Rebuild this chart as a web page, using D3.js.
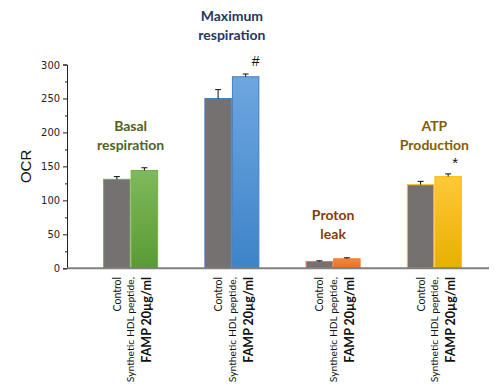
<!DOCTYPE html>
<html><head><meta charset="utf-8">
<script src="https://cdn.jsdelivr.net/npm/d3@7"></script>
<style>body{margin:0;background:#fff}svg{display:block}</style>
</head><body>
<script>
const groups = ["Basal respiration", "Maximum respiration", "Proton leak", "ATP Production"];
const groupLines = [["Basal","respiration"],["Maximum","respiration"],["Proton","leak"],["ATP","Production"]];
const controlValues = [131, 250, 10, 123];
const controlErrors = [4, 13, 1, 5];
const famValues = [144, 282, 14, 135];
const famErrors = [4, 4, 1.5, 4];
const markers = ["", "#", "", "*"];
const yTicks = [0, 50, 100, 150, 200, 250, 300];
const yMinorTicks = d3.range(0, 301, 25);

const W = 495, H = 387;
const svg = d3.select("body").append("svg").attr("width", W).attr("height", H);
const defs = svg.append("defs");

const groupColors = [
  {border:"#70ad47", top:"#7dba5c", bottom:"#5a9a32", label:"#4f6228"},
  {border:"#4a7cc4", top:"#6ea6e0", bottom:"#3d84c8", label:"#1f3864"},
  {border:"#ed7d31", top:"#f48a3a", bottom:"#e8701f", label:"#843c0c"},
  {border:"#ffc000", top:"#ffc838", bottom:"#e6b000", label:"#7f6000"}
];
groupColors.forEach((c,i)=>{
  const g = defs.append("linearGradient").attr("id","grad"+i).attr("x1",0).attr("y1",0).attr("x2",0).attr("y2",1);
  g.append("stop").attr("offset","0%").attr("stop-color",c.top);
  g.append("stop").attr("offset","100%").attr("stop-color",c.bottom);
});

const x0 = 67, x1 = 483;
const y = d3.scaleLinear().domain([0,300]).range([268.3, 64.5]);
const xg = d3.scaleBand().domain(groups).range([x0+13, x1+2]).paddingInner(0).paddingOuter(0);
const xs = d3.scaleBand().domain(["c","f"]).range([0, 54]).paddingInner(0.04);
const groupOffset = g => xg(g) + (xg.bandwidth()-54)/2;
const labelFont = "Lato,'Open Sans',sans-serif";

// y axis
const yAxis = d3.axisLeft(y).tickValues(yTicks).tickSize(4).tickPadding(3);
const ya = svg.append("g").attr("transform",`translate(${x0},0)`).call(yAxis);
ya.select(".domain").attr("stroke","#222").attr("stroke-width",1);
ya.selectAll(".tick line").attr("stroke","#222");
ya.selectAll("text").attr("font-family","'Liberation Sans Narrow','DejaVu Sans Condensed',sans-serif").attr("font-size",11).attr("fill","#222");
const yMinor = d3.axisLeft(y).tickValues(yMinorTicks.filter(v=>v%50)).tickSize(2).tickFormat("");
const ym = svg.append("g").attr("transform",`translate(${x0},0)`).call(yMinor);
ym.select(".domain").remove();
ym.selectAll(".tick line").attr("stroke","#222");

svg.append("text").attr("transform",`translate(31,${y(150)}) rotate(-90)`)
  .attr("text-anchor","middle").attr("font-family","'Liberation Sans',Arial,sans-serif")
  .attr("font-size",15).attr("fill","#111").text("OCR");

const labelOffsets = [-37, 0, -38, -43];

// bars
groups.forEach((g,i)=>{
  const gx = groupOffset(g);
  const c = groupColors[i];
  const bars = [
    {k:"c", v:controlValues[i], e:controlErrors[i], fill:"#767171"},
    {k:"f", v:famValues[i], e:famErrors[i], fill:`url(#grad${i})`}
  ];
  bars.forEach(b=>{
    const bx = gx + xs(b.k);
    svg.append("rect").attr("x",bx).attr("y",y(b.v)).attr("width",xs.bandwidth())
      .attr("height",y(0)-y(b.v)).attr("fill",b.fill).attr("stroke",c.border).attr("stroke-width",1);
    const cx = bx + xs.bandwidth()/2;
    svg.append("line").attr("x1",cx).attr("x2",cx).attr("y1",y(b.v)).attr("y2",y(b.v+b.e)).attr("stroke","#111").attr("stroke-width",1);
    svg.append("line").attr("x1",cx-3).attr("x2",cx+3).attr("y1",y(b.v+b.e)).attr("y2",y(b.v+b.e)).attr("stroke","#111").attr("stroke-width",1);
  });
  if (markers[i]) {
    const cx = gx + xs("f") + xs.bandwidth()/2 + (markers[i]==="#"?10:7);
    svg.append("text").attr("x",cx).attr("y",y(famValues[i]+famErrors[i])-(markers[i]==="*"?6:8))
      .attr("text-anchor","middle").attr("font-family","'Liberation Sans',Arial,sans-serif")
      .attr("font-size",markers[i]==="*"?15:14).attr("fill","#111").text(markers[i]);
  }
  // group label
  const top = (i===1) ? 21 : y(famValues[i]+famErrors[i]) + labelOffsets[i];
  const t = svg.append("text").attr("text-anchor","middle").attr("font-family",labelFont)
    .attr("font-weight","bold").attr("font-size",14).attr("fill",c.label);
  groupLines[i].forEach((ln,j)=>{
    t.append("tspan").attr("x",gx+27).attr("y",top + j*19).text(ln);
  });
  // x labels
  const lx = gx + xs("c") + xs.bandwidth()/2;
  svg.append("text").attr("transform",`translate(${lx+4},277) rotate(-90)`).attr("text-anchor","end")
    .attr("font-family",labelFont).attr("font-size",10.5).attr("fill","#111").text("Control");
  const fx = gx + xs("f") + xs.bandwidth()/2;
  svg.append("text").attr("transform",`translate(${fx-10},277) rotate(-90)`).attr("text-anchor","end")
    .attr("font-family",labelFont).attr("font-size",10.3).attr("fill","#111").text("Synthetic HDL peptide,");
  svg.append("text").attr("transform",`translate(${fx+7},277) rotate(-90)`).attr("text-anchor","end")
    .attr("font-family",labelFont).attr("font-weight","bold").attr("font-size",12.5).attr("fill","#111").text("FAMP 20µg/ml");
});

// x axis line
svg.append("line").attr("x1",x0).attr("x2",x1+6).attr("y1",y(0)).attr("y2",y(0)).attr("stroke","#7f7f7f").attr("stroke-width",2);
</script>
</body></html>
